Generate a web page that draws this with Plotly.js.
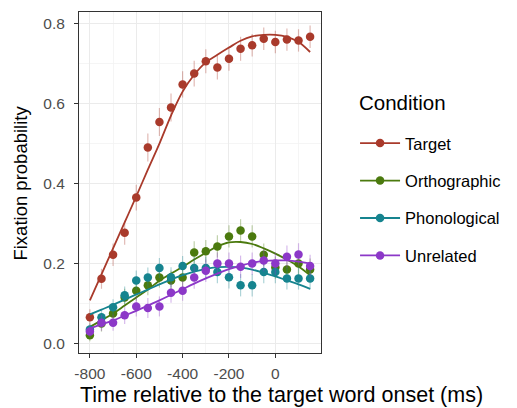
<!DOCTYPE html>
<html><head><meta charset="utf-8">
<script src="https://cdn.plot.ly/plotly-3.0.1.min.js"></script>
<style>html,body{margin:0;padding:0;background:#fff}#chart{width:517px;height:408px}</style>
</head><body><div id="chart"></div>
<script>
const time = [-800,-750,-700,-650,-600,-550,-500,-450,-400,-350,-300,-250,-200,-150,-100,-50,0,50,100,150];
const conditions = ["Target","Orthographic","Phonological","Unrelated"];
const colors = ["#A93A2B","#4B7A0E","#16848F","#8C38C8"];
const targetObs = [0.066,0.162,0.222,0.277,0.365,0.49,0.554,0.59,0.648,0.675,0.706,0.69,0.712,0.737,0.746,0.762,0.754,0.76,0.758,0.767];
const orthoObs  = [0.021,0.05,0.075,0.115,0.132,0.146,0.165,0.158,0.165,0.228,0.231,0.243,0.268,0.283,0.268,0.222,0.19,0.185,0.2,0.185];
const phonoObs  = [0.035,0.066,0.091,0.121,0.158,0.165,0.189,0.166,0.194,0.189,0.189,0.179,0.166,0.146,0.146,0.179,0.179,0.163,0.163,0.163];
const unrelObs  = [0.03,0.052,0.052,0.071,0.093,0.089,0.093,0.127,0.132,0.165,0.182,0.2,0.2,0.192,0.2,0.208,0.2,0.217,0.223,0.194];
const targetFit = [0.108,0.173,0.238,0.303,0.368,0.435,0.5,0.57,0.63,0.672,0.703,0.722,0.74,0.757,0.768,0.772,0.772,0.767,0.754,0.729];
const orthoFit  = [0.042,0.058,0.075,0.095,0.115,0.135,0.157,0.175,0.192,0.21,0.227,0.243,0.253,0.254,0.249,0.238,0.225,0.21,0.193,0.171];
const phonoFit  = [0.073,0.085,0.097,0.11,0.123,0.135,0.148,0.16,0.171,0.18,0.187,0.191,0.192,0.19,0.185,0.177,0.168,0.158,0.148,0.137];
const unrelFit  = [0.038,0.048,0.058,0.07,0.082,0.095,0.108,0.122,0.136,0.15,0.163,0.175,0.186,0.195,0.202,0.206,0.208,0.208,0.205,0.2];
const targetSE = [0.02,0.025,0.028,0.03,0.032,0.035,0.035,0.035,0.033,0.032,0.03,0.03,0.03,0.03,0.028,0.028,0.028,0.028,0.028,0.028];
const otherSE  = [0.015,0.02,0.02,0.022,0.025,0.025,0.025,0.025,0.025,0.028,0.028,0.028,0.028,0.028,0.028,0.028,0.028,0.028,0.028,0.028];
const xTicks = [-800,-600,-400,-200,0];
const yTicks = [0,0.2,0.4,0.6,0.8];

const obs = [targetObs, orthoObs, phonoObs, unrelObs];
const fits = [targetFit, orthoFit, phonoFit, unrelFit];
const ses = [targetSE, otherSE, otherSE, otherSE];

function rgba(hex,a){const n=parseInt(hex.slice(1),16);return `rgba(${n>>16},${(n>>8)&255},${n&255},${a})`;}

const traces = [];
conditions.forEach((c,i)=>{
  traces.push({x:time,y:fits[i],type:'scatter',mode:'lines',line:{color:colors[i],width:1.8,shape:'spline'},showlegend:false,legendgroup:c,hoverinfo:'skip'});
  traces.push({x:time,y:obs[i],type:'scatter',mode:'markers',marker:{color:colors[i],size:8.5},
    error_y:{type:'data',array:ses[i],visible:true,color:rgba(colors[i],0.35),thickness:1.2,width:0},
    showlegend:false,legendgroup:c});
  traces.push({x:[null],y:[null],type:'scatter',mode:'lines+markers',name:c,legendgroup:c,
    line:{color:colors[i],width:1.8},marker:{color:colors[i],size:8.5}});
});

const layout = {
  width:517,height:408,
  margin:{l:79,r:195,t:12,b:55},
  paper_bgcolor:'#fff',plot_bgcolor:'#fff',
  font:{family:'"Liberation Sans", Arial, sans-serif',color:'#000'},
  showlegend:true,
  legend:{x:1.136,xanchor:'left',y:0.666,yanchor:'top',
    font:{size:16.5,color:'#000'},tracegroupgap:13,itemwidth:40},
  annotations:[
    {text:'Condition',xref:'paper',yref:'paper',x:(358-79)/243,y:(352.7-102)/341,xanchor:'left',yanchor:'middle',showarrow:false,font:{size:20.5,color:'#000'}},
    {text:'Time relative to the target word onset (ms)',xref:'paper',yref:'paper',x:-0.003,y:(352.7-395)/341,xanchor:'left',yanchor:'middle',showarrow:false,font:{size:21.5,color:'#000'}},
    {text:'Fixation probability',xref:'paper',yref:'paper',x:(20-79)/243,y:(352.7-183)/341,xanchor:'center',yanchor:'middle',textangle:-90,showarrow:false,font:{size:18.5,color:'#000'}}
  ],
  xaxis:{range:[-847,197],tickvals:xTicks,ticktext:xTicks.map(String),
    ticks:'outside',ticklen:4,tickcolor:'#333',tickwidth:1,tickfont:{size:15.5,color:'#4D4D4D'},ticklabelstandoff:2,
    showgrid:true,gridcolor:'#EBEBEB',gridwidth:1,zeroline:false,
    minor:{tickvals:[-700,-500,-300,-100,100],showgrid:true,gridcolor:'#F3F3F3',gridwidth:0.8,ticks:''},
    showline:true,mirror:true,linecolor:'#333',linewidth:1},
  yaxis:{range:[-0.0235,0.829],tickvals:yTicks,ticktext:yTicks.map(v=>v.toFixed(1)),
    ticks:'outside',ticklen:4,tickcolor:'#333',tickwidth:1,tickfont:{size:15.5,color:'#4D4D4D'},ticklabelstandoff:6,
    showgrid:true,gridcolor:'#EBEBEB',gridwidth:1,zeroline:false,
    minor:{tickvals:[0.1,0.3,0.5,0.7],showgrid:true,gridcolor:'#F3F3F3',gridwidth:0.8,ticks:''},
    showline:true,mirror:true,linecolor:'#333',linewidth:1}
};
Plotly.newPlot('chart',traces,layout,{displayModeBar:false,staticPlot:true});
</script></body></html>
